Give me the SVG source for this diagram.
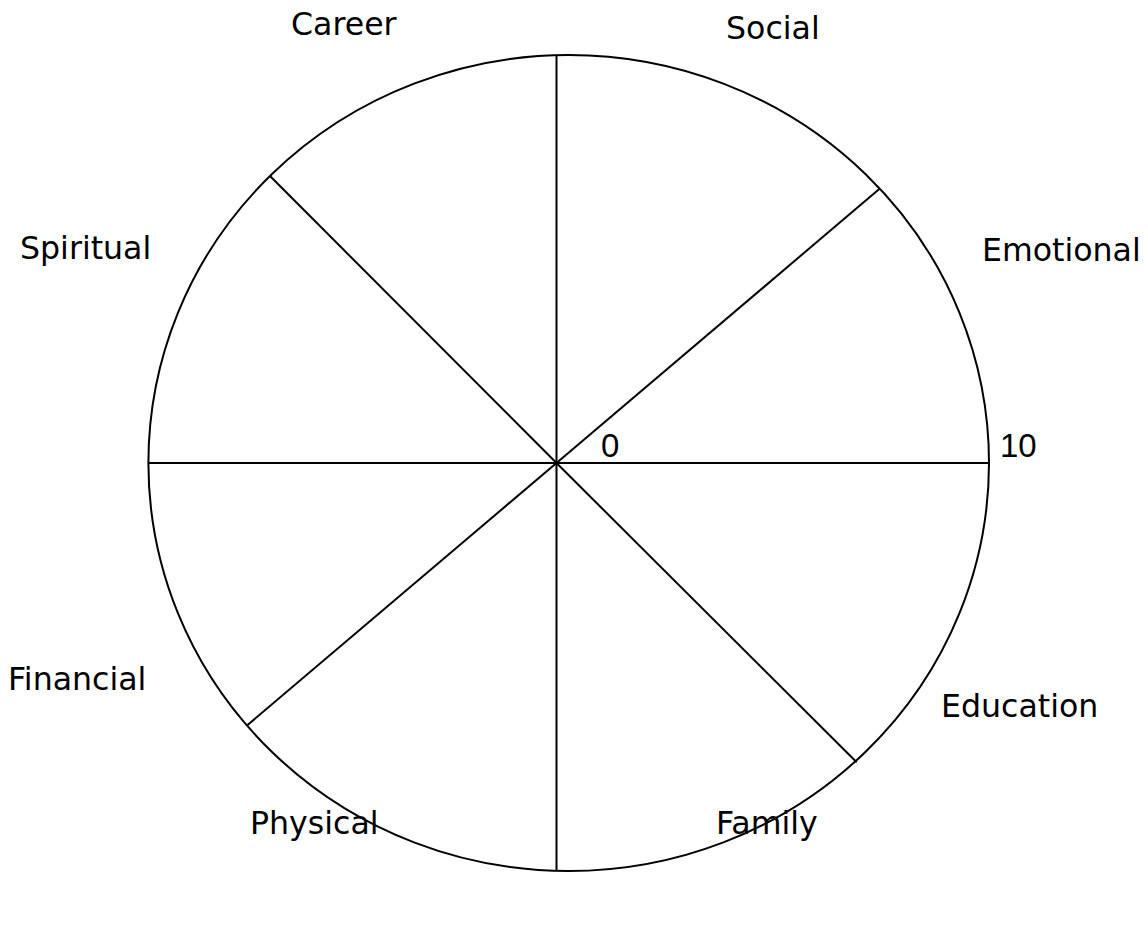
<svg xmlns="http://www.w3.org/2000/svg" width="1148" height="925" viewBox="0 0 1148 925">
<style>
.ln{stroke:#000;stroke-width:2;fill:none}
.lb{font-family:"DejaVu Sans",Verdana,sans-serif;font-size:31.6px;fill:#000}
.nm{font-family:"Liberation Sans",Arial,sans-serif;font-size:33px;fill:#000}
</style>
<rect width="1148" height="925" fill="#fff"/>
<g id="wheel">
<ellipse class="ln" cx="568.7" cy="463" rx="420.3" ry="408"/>
</g>
<g id="connectors">
<line class="ln" x1="556.5" y1="55" x2="556.5" y2="871"/>
<line class="ln" x1="148.3" y1="463" x2="989" y2="463"/>
<line class="ln" x1="556.5" y1="463" x2="270" y2="176"/>
<line class="ln" x1="556.5" y1="463" x2="856.7" y2="762.3"/>
<line class="ln" x1="556.5" y1="463" x2="879.3" y2="189"/>
<line class="ln" x1="556.5" y1="463" x2="246.7" y2="725.7"/>
</g>
<g id="label-career"><text class="lb" x="291" y="35">Career</text></g>
<g id="label-social"><text class="lb" x="726" y="39">Social</text></g>
<g id="label-spiritual"><text class="lb" x="20" y="259">Spiritual</text></g>
<g id="label-emotional"><text class="lb" x="982" y="261">Emotional</text></g>
<g id="label-financial"><text class="lb" x="8" y="690">Financial</text></g>
<g id="label-education"><text class="lb" x="941" y="717">Education</text></g>
<g id="label-physical"><text class="lb" x="250" y="834">Physical</text></g>
<g id="label-family"><text class="lb" x="716" y="834">Family</text></g>
<g id="label-0"><text class="nm" x="601" y="457">0</text></g>
<g id="label-10"><text class="nm" x="1000" y="457">10</text></g>
</svg>
